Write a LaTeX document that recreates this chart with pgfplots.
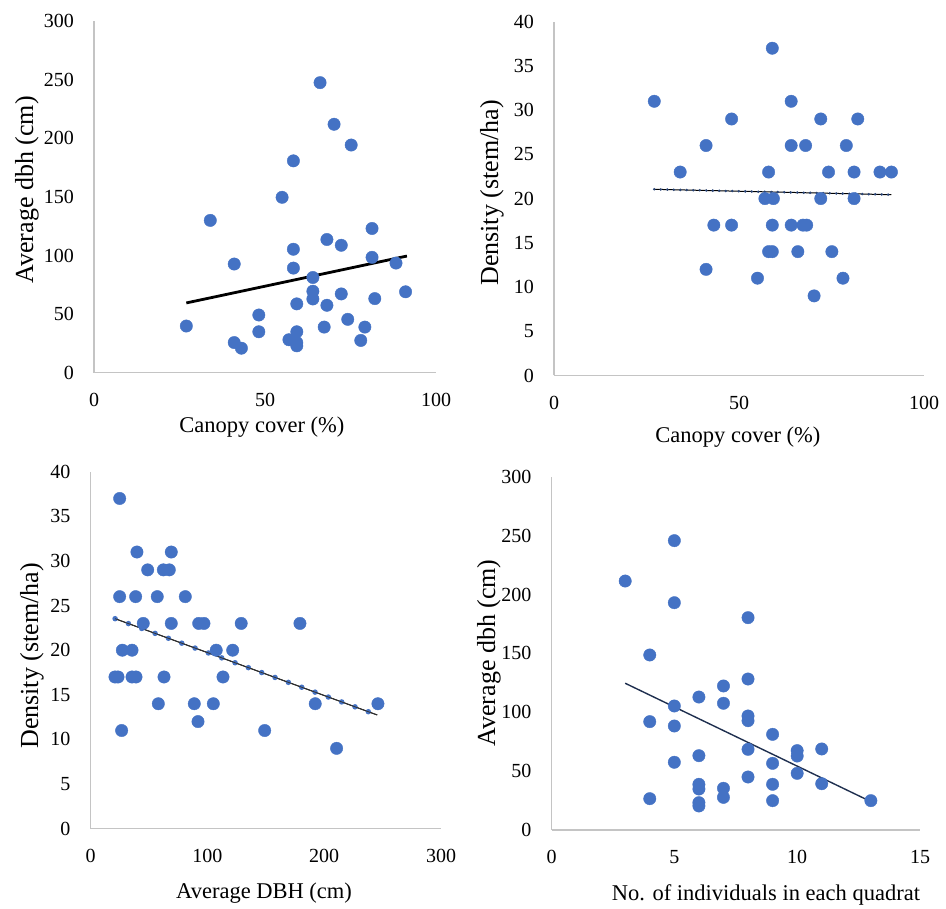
\documentclass[border=0pt]{standalone}
\usepackage{pgfplots}
\pgfplotsset{compat=1.18}
\usepackage{fontspec}
\setmainfont{Liberation Serif}
\definecolor{mblue}{HTML}{4472C4}
\definecolor{axgray}{HTML}{C4C4C4}
\definecolor{tnavy}{HTML}{1F2F4F}
\pgfplotsset{
  panel/.style={
    scale only axis, anchor=south west,
    axis lines=left, axis line style={-, draw=axgray, line width=1.2pt},
    major tick length=0pt, tick style={draw=none},
    enlargelimits=false, clip=false,
    /pgf/number format/assume math mode=true,
    ticklabel style={font=\fontsize{20}{24}\selectfont, inner sep=0pt},
    yticklabel style={anchor=east, xshift=-20pt},
    xticklabel style={anchor=center, yshift=-27pt},
    xlabel style={font=\fontsize{22.5}{26}\selectfont, anchor=center},
    ylabel style={font=\fontsize{26}{30}\selectfont, anchor=center, rotate=0},
  },
  dots/.style={only marks, mark=*, mark size=6.2pt, mark options={draw=mblue, fill=mblue}},
}
\begin{document}
\begin{tikzpicture}[x=1pt,y=1pt]
\useasboundingbox (0,0) rectangle (946,909);
% Panel 1
\begin{axis}[panel, at={(94pt,536.3pt)}, width=342pt, height=351.7pt,
  xmin=0, xmax=100, ymin=0, ymax=300, xtick={0,50,100}, ytick={0,50,...,300},
  xlabel={Canopy cover (\%)}, ylabel={Average dbh (cm)},
  xlabel style={at={(axis description cs:0.491,-0.155)}},
  ylabel style={at={(axis description cs:-0.196,0.52)}}]
\addplot[dots] coordinates {
(66.1,247.4) (70.2,211.9) (75.2,194.2) (58.3,180.7) (55.0,149.6) (34.0,129.9)
(81.3,123.0) (68.1,113.6) (72.3,108.7) (58.3,105.3) (81.3,98.4) (88.3,93.5)
(41.0,92.7) (58.3,89.2) (64.0,81.2) (64.0,69.5) (91.1,69.0) (72.3,67.2)
(64.0,62.9) (82.1,63.2) (59.3,58.7) (68.1,57.5) (48.2,49.2) (74.2,45.5)
(27.0,39.8) (48.2,34.9) (59.3,34.9) (67.3,38.9) (79.2,38.9) (41.0,25.7)
(43.1,20.9) (57.0,28.1) (59.3,25.7) (59.3,22.9) (78.0,27.5)};
\addplot[black, line width=2.8pt] coordinates {(27,59.5) (91.5,99.5)};
\end{axis}
% Panel 2
\begin{axis}[panel, at={(554pt,533.5pt)}, width=370pt, height=353.8pt,
  xmin=0, xmax=100, ymin=0, ymax=40, xtick={0,50,100}, ytick={0,5,...,40},
  xlabel={Canopy cover (\%)}, ylabel={Density (stem/ha)},
  xlabel style={at={(axis description cs:0.497,-0.174)}},
  ylabel style={at={(axis description cs:-0.168,0.516)}}]
\addplot[dots] coordinates {
(59.0,37) (27.1,31) (64.1,31) (48.0,29) (72.1,29) (82.1,29)
(41.1,26) (64.1,26) (68.0,26) (79.0,26)
(34.1,23) (58.0,23) (74.2,23) (81.1,23) (88.1,23) (91.2,23)
(57.0,20) (59.3,20) (72.1,20) (81.1,20)
(43.2,17) (48.0,17) (59.0,17) (64.1,17) (67.3,17) (68.3,17)
(58.0,14) (59.0,14) (65.9,14) (75.1,14)
(41.1,12) (55.0,11) (78.1,11) (70.3,9)};
\addplot[black, line width=1pt] coordinates {(27.1,21.05) (91.2,20.44)};
\addplot[mblue!60!black, line width=2.8pt, line cap=round, dash pattern=on 0pt off 6.5pt] coordinates {(27.1,21.05) (91.2,20.44)};
\end{axis}
% Panel 3
\begin{axis}[panel, at={(90.7pt,80.3pt)}, width=350.3pt, height=357pt,
  xmin=0, xmax=300, ymin=0, ymax=40, xtick={0,100,200,300}, ytick={0,5,...,40},
  xlabel={Average DBH (cm)}, ylabel={Density (stem/ha)},
  xlabel style={at={(axis description cs:0.495,-0.18)}},
  ylabel style={at={(axis description cs:-0.168,0.484)}}]
\addplot[dots] coordinates {
(24.8,37) (39.6,31) (69.0,31) (48.8,29) (62.2,29) (67.3,29)
(24.8,26) (38.5,26) (57.0,26) (81.0,26)
(45.0,23) (69.0,23) (92.5,23) (97.0,23) (128.9,23) (179.2,23)
(27.1,20) (35.4,20) (107.5,20) (121.6,20)
(20.8,17) (23.4,17) (35.4,17) (38.8,17) (62.8,17) (113.3,17)
(57.9,14) (88.7,14) (105.0,14) (192.3,14) (246.0,14)
(91.9,12) (26.5,11) (149.0,11) (210.6,9)};
\addplot[black, line width=1pt] coordinates {(20.9,23.53) (245.4,12.74)};
\addplot[mblue, line width=5.5pt, line cap=round, dash pattern=on 0pt off 14.2pt] coordinates {(20.9,23.53) (245.4,12.74)};
\addplot[black!80, line width=0.8pt] coordinates {(20.9,23.53) (245.4,12.74)};
\end{axis}
% Panel 4
\begin{axis}[panel, at={(551.5pt,79pt)}, width=368.5pt, height=353.3pt,
  xmin=0, xmax=15, ymin=0, ymax=300, xtick={0,5,10,15}, ytick={0,50,...,300},
  xlabel={No. of individuals in each quadrat}, ylabel={Average dbh (cm)},
  xlabel style={at={(axis description cs:0.582,-0.184)}},
  ylabel style={at={(axis description cs:-0.17,0.501)}}]
\addplot[dots] coordinates {
(5,245.7) (3,211.4) (5,193.0) (8,180.3) (4,148.6) (8,128.2) (7,122.3)
(6,112.9) (7,107.6) (5,105.3) (8,96.8) (8,92.8) (4,92.0) (5,88.3)
(9,81.2) (10,67.4) (11,68.8) (8,68.5) (10,62.8) (6,63.1) (5,57.5)
(9,56.6) (10,48.1) (8,45.0) (11,39.3) (6,38.8) (9,38.8) (7,35.4)
(6,34.8) (7,27.7) (4,26.6) (9,24.9) (13,24.9) (6,23.2) (6,20.4)};
\addplot[tnavy, line width=1.4pt] coordinates {(3,124.6) (12.95,24.6)};
\end{axis}
\end{tikzpicture}
\end{document}
